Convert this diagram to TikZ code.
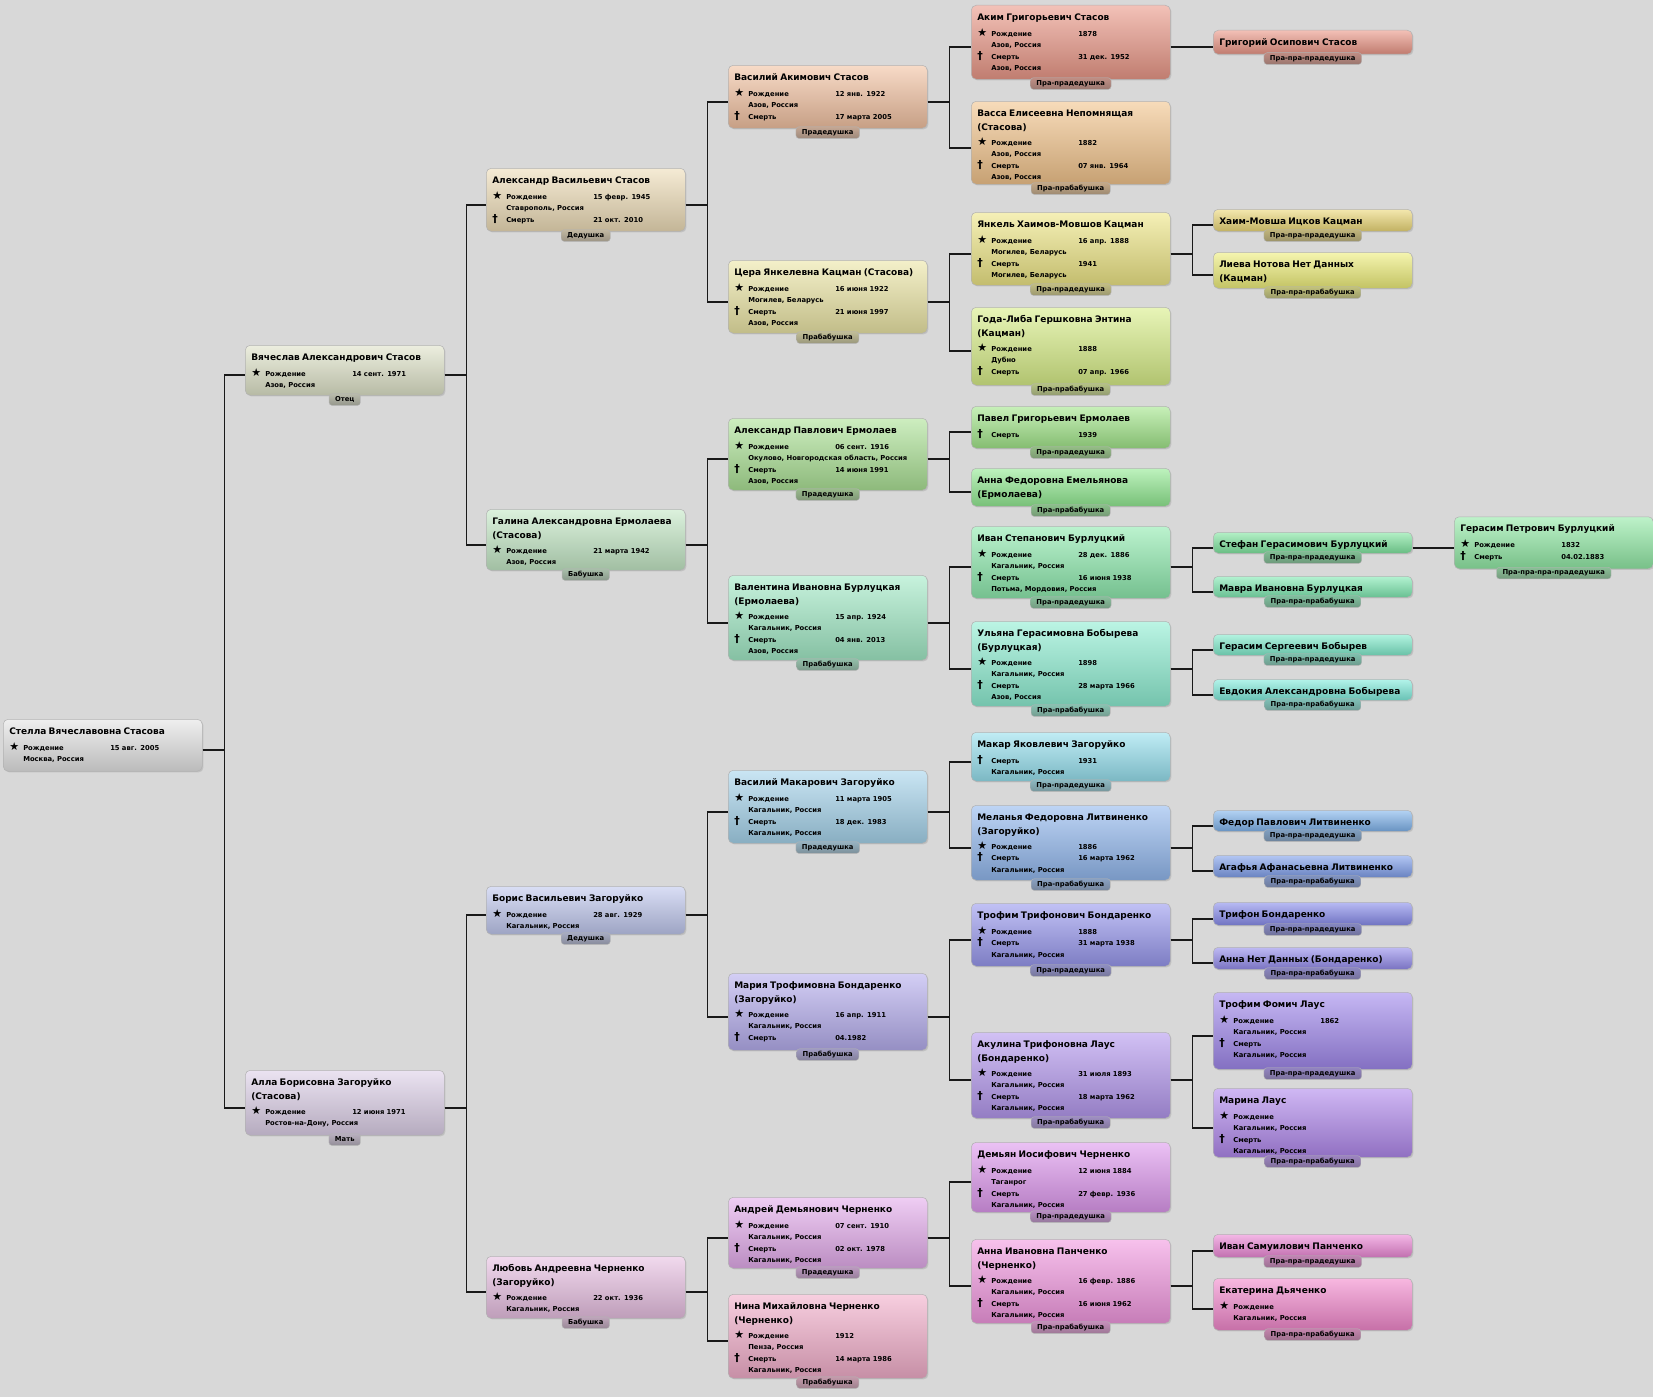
\documentclass[tikz,border=0pt]{standalone}
\usepackage{fontspec}
\setmainfont{DejaVu Sans}
\usetikzlibrary{positioning, shadows}

\definecolor{bgc}{HTML}{D8D8D8}
\definecolor{cRoot}{HTML}{E4E4E4}
\definecolor{cDad}{HTML}{DFE3C9}
\definecolor{cMom}{HTML}{DDD0E8}
\definecolor{cAlexV}{HTML}{EEDDB8}
\definecolor{cGalina}{HTML}{C4E8C6}
\definecolor{cBoris}{HTML}{C0C8EE}
\definecolor{cLyubov}{HTML}{E8C0E2}
\definecolor{cVasA}{HTML}{F2C2A2}
\definecolor{cTsera}{HTML}{ECE6A6}
\definecolor{cAlexP}{HTML}{ACE296}
\definecolor{cValentina}{HTML}{A2EAC6}
\definecolor{cVasM}{HTML}{A6D4EC}
\definecolor{cMaria}{HTML}{B6AEEE}
\definecolor{cAndrey}{HTML}{E4ACEC}
\definecolor{cNina}{HTML}{F2AECA}
\definecolor{cAkim}{HTML}{EA9888}
\definecolor{cVassa}{HTML}{F2C48C}
\definecolor{cYankel}{HTML}{EEE686}
\definecolor{cGoda}{HTML}{D8EE88}
\definecolor{cPavel}{HTML}{A2E68A}
\definecolor{cAnnaF}{HTML}{92EA92}
\definecolor{cIvanS}{HTML}{8EEAAE}
\definecolor{cUlyana}{HTML}{8EEED2}
\definecolor{cMakar}{HTML}{96E0EE}
\definecolor{cMelanya}{HTML}{92B8EE}
\definecolor{cTrofimT}{HTML}{9898EE}
\definecolor{cAkulina}{HTML}{B498EE}
\definecolor{cDemyan}{HTML}{DE98EE}
\definecolor{cAnnaI}{HTML}{F298E0}
\definecolor{cGrigory}{HTML}{EA9686}
\definecolor{cKhaim}{HTML}{ECD878}
\definecolor{cLieva}{HTML}{EEEE7A}
\definecolor{cStefan}{HTML}{80E6A0}
\definecolor{cMavra}{HTML}{80EAB2}
\definecolor{cGerasimS}{HTML}{80ECCC}
\definecolor{cEvdokia}{HTML}{80ECDC}
\definecolor{cFedor}{HTML}{80B4EC}
\definecolor{cAgafya}{HTML}{80A0EC}
\definecolor{cTrifon}{HTML}{888CEC}
\definecolor{cAnnaN}{HTML}{948CEC}
\definecolor{cTrofimF}{HTML}{A088EC}
\definecolor{cMarina}{HTML}{B088EC}
\definecolor{cIvanSam}{HTML}{EC88D6}
\definecolor{cEkaterina}{HTML}{F288CC}
\definecolor{cGerasimP}{HTML}{92EAA6}

\newcommand{\detf}{\fontsize{6.8}{11.5}\selectfont\bfseries}
\newcommand{\namef}{\fontsize{9}{11.5}\selectfont\bfseries}
\newcommand{\tabf}{\fontsize{6.8}{7}\selectfont\bfseries}
\newcommand{\symf}{\fontsize{11}{9}\selectfont}
\newcommand{\nm}[1]{{\namef #1}\\[4.5pt]}
\newcommand{\nmm}[2]{{\namef #1}\\[2.5pt]{\namef #2}\\[3.5pt]}
\newcommand{\rod}[1]{\makebox[14pt][l]{\symf ★}\makebox[87pt][l]{Рождение}#1}
\newcommand{\smr}[1]{\makebox[14pt][l]{\symf †}\makebox[87pt][l]{Смерть}#1}
\newcommand{\plc}[1]{\hspace*{14pt}#1}

\begin{document}
\begin{tikzpicture}[
  x=1pt, y=-1pt,
  card/.style={draw=black!30, line width=.5pt, rounded corners=5pt,
    top color=#1!60!white, bottom color=#1!82!black,
    drop shadow={opacity=.25, shadow xshift=1.2pt, shadow yshift=-1.2pt},
    anchor=north west, text width=187pt, inner xsep=6pt, inner ysep=0pt,
    text height=15pt, align=left, font=\detf},
  tab/.style={draw=black!30, line width=.4pt, rounded corners=3pt,
    top color=#1!60!gray, bottom color=#1!50!gray!85!black,
    inner xsep=6pt, inner ysep=2.2pt,
    text height=5.5pt, text depth=1.8pt, font=\tabf},
  link/.style={draw=black!90, line width=1.6pt}
]
  \useasboundingbox (0,0) rectangle (1653,1397);
  \fill[bgc] (0,0) rectangle (1653,1397);

  % generation 0-2
  \node[card=cRoot, text depth=37pt] (root) at (3,719)
    {\nm{Стелла Вячеславовна Стасова}\rod{15 авг. 2005}\\\plc{Москва, Россия}};
  \node[card=cDad, text depth=35pt] (dad) at (245,345)
    {\nm{Вячеслав Александрович Стасов}\rod{14 сент. 1971}\\\plc{Азов, Россия}};
  \node[card=cMom, text depth=50pt] (mom) at (245,1070)
    {\nmm{Алла Борисовна Загоруйко}{(Стасова)}\rod{12 июня 1971}\\\plc{Ростов-на-Дону, Россия}};
  \node[card=cAlexV, text depth=48pt] (alexV) at (486,168)
    {\nm{Александр Васильевич Стасов}\rod{15 февр. 1945}\\\plc{Ставрополь, Россия}\\\smr{21 окт. 2010}};
  \node[card=cGalina, text depth=46pt] (galina) at (486,509)
    {\nmm{Галина Александровна Ермолаева}{(Стасова)}\rod{21 марта 1942}\\\plc{Азов, Россия}};
  \node[card=cBoris, text depth=33pt] (boris) at (486,886)
    {\nm{Борис Васильевич Загоруйко}\rod{28 авг. 1929}\\\plc{Кагальник, Россия}};
  \node[card=cLyubov, text depth=47pt] (lyubov) at (486,1256)
    {\nmm{Любовь Андреевна Черненко}{(Загоруйко)}\rod{22 окт. 1936}\\\plc{Кагальник, Россия}};

  % generation 3
  \node[card=cVasA, text depth=48pt] (vasA) at (728,65)
    {\nm{Василий Акимович Стасов}\rod{12 янв. 1922}\\\plc{Азов, Россия}\\\smr{17 марта 2005}};
  \node[card=cTsera, text depth=58pt] (tsera) at (728,260)
    {\nm{Цера Янкелевна Кацман (Стасова)}\rod{16 июня 1922}\\\plc{Могилев, Беларусь}\\\smr{21 июня 1997}\\\plc{Азов, Россия}};
  \node[card=cAlexP, text depth=57pt] (alexP) at (728,418)
    {\nm{Александр Павлович Ермолаев}\rod{06 сент. 1916}\\\plc{Окулово, Новгородская область, Россия}\\\smr{14 июня 1991}\\\plc{Азов, Россия}};
  \node[card=cValentina, text depth=70pt] (valentina) at (728,575)
    {\nmm{Валентина Ивановна Бурлуцкая}{(Ермолаева)}\rod{15 апр. 1924}\\\plc{Кагальник, Россия}\\\smr{04 янв. 2013}\\\plc{Азов, Россия}};
  \node[card=cVasM, text depth=58pt] (vasM) at (728,770)
    {\nm{Василий Макарович Загоруйко}\rod{11 марта 1905}\\\plc{Кагальник, Россия}\\\smr{18 дек. 1983}\\\plc{Кагальник, Россия}};
  \node[card=cMaria, text depth=62pt] (maria) at (728,973)
    {\nmm{Мария Трофимовна Бондаренко}{(Загоруйко)}\rod{16 апр. 1911}\\\plc{Кагальник, Россия}\\\smr{04.1982}};
  \node[card=cAndrey, text depth=56pt] (andrey) at (728,1197)
    {\nm{Андрей Демьянович Черненко}\rod{07 сент. 1910}\\\plc{Кагальник, Россия}\\\smr{02 окт. 1978}\\\plc{Кагальник, Россия}};
  \node[card=cNina, text depth=69pt] (nina) at (728,1294)
    {\nmm{Нина Михайловна Черненко}{(Черненко)}\rod{1912}\\\plc{Пенза, Россия}\\\smr{14 марта 1986}\\\plc{Кагальник, Россия}};

  % generation 4
  \node[card=cAkim, text depth=59pt] (akim) at (971,5)
    {\nm{Аким Григорьевич Стасов}\rod{1878}\\\plc{Азов, Россия}\\\smr{31 дек. 1952}\\\plc{Азов, Россия}};
  \node[card=cVassa, text depth=68pt] (vassa) at (971,101)
    {\nmm{Васса Елисеевна Непомнящая}{(Стасова)}\rod{1882}\\\plc{Азов, Россия}\\\smr{07 янв. 1964}\\\plc{Азов, Россия}};
  \node[card=cYankel, text depth=58pt] (yankel) at (971,212)
    {\nm{Янкель Хаимов-Мовшов Кацман}\rod{16 апр. 1888}\\\plc{Могилев, Беларусь}\\\smr{1941}\\\plc{Могилев, Беларусь}};
  \node[card=cGoda, text depth=63pt] (goda) at (971,307)
    {\nmm{Года-Либа Гершковна Энтина}{(Кацман)}\rod{1888}\\\plc{Дубно}\\\smr{07 апр. 1966}};
  \node[card=cPavel, text depth=27pt] (pavel) at (971,406)
    {\nm{Павел Григорьевич Ермолаев}\smr{1939}};
  \node[card=cAnnaF, text depth=23pt] (annaF) at (971,468)
    {{\namef Анна Федоровна Емельянова}\\[2.5pt]{\namef (Ермолаева)}};
  \node[card=cIvanS, text depth=57pt] (ivanS) at (971,526)
    {\nm{Иван Степанович Бурлуцкий}\rod{28 дек. 1886}\\\plc{Кагальник, Россия}\\\smr{16 июня 1938}\\\plc{Потьма, Мордовия, Россия}};
  \node[card=cUlyana, text depth=70pt] (ulyana) at (971,621)
    {\nmm{Ульяна Герасимовна Бобырева}{(Бурлуцкая)}\rod{1898}\\\plc{Кагальник, Россия}\\\smr{28 марта 1966}\\\plc{Азов, Россия}};
  \node[card=cMakar, text depth=34pt] (makar) at (971,732)
    {\nm{Макар Яковлевич Загоруйко}\smr{1931}\\\plc{Кагальник, Россия}};
  \node[card=cMelanya, text depth=60pt] (melanya) at (971,805)
    {\nmm{Меланья Федоровна Литвиненко}{(Загоруйко)}\rod{1886}\\\smr{16 марта 1962}\\\plc{Кагальник, Россия}};
  \node[card=cTrofimT, text depth=48pt] (trofimT) at (971,903)
    {\nm{Трофим Трифонович Бондаренко}\rod{1888}\\\smr{31 марта 1938}\\\plc{Кагальник, Россия}};
  \node[card=cAkulina, text depth=71pt] (akulina) at (971,1032)
    {\nmm{Акулина Трифоновна Лаус}{(Бондаренко)}\rod{31 июля 1893}\\\plc{Кагальник, Россия}\\\smr{18 марта 1962}\\\plc{Кагальник, Россия}};
  \node[card=cDemyan, text depth=55pt] (demyan) at (971,1142)
    {\nm{Демьян Иосифович Черненко}\rod{12 июня 1884}\\\plc{Таганрог}\\\smr{27 февр. 1936}\\\plc{Кагальник, Россия}};
  \node[card=cAnnaI, text depth=69pt] (annaI) at (971,1239)
    {\nmm{Анна Ивановна Панченко}{(Черненко)}\rod{16 февр. 1886}\\\plc{Кагальник, Россия}\\\smr{16 июня 1962}\\\plc{Кагальник, Россия}};

  % generation 5-6
  \node[card=cGrigory, text depth=9pt] (grigory) at (1213,30) {{\namef Григорий Осипович Стасов}};
  \node[card=cKhaim, text depth=7pt] (khaim) at (1213,209) {{\namef Хаим-Мовша Ицков Кацман}};
  \node[card=cLieva, text depth=21pt] (lieva) at (1213,252)
    {{\namef Лиева Нотова Нет Данных}\\[2.5pt]{\namef (Кацман)}};
  \node[card=cStefan, text depth=6pt] (stefan) at (1213,532) {{\namef Стефан Герасимович Бурлуцкий}};
  \node[card=cMavra, text depth=6pt] (mavra) at (1213,576) {{\namef Мавра Ивановна Бурлуцкая}};
  \node[card=cGerasimS, text depth=6pt] (gerasimS) at (1213,634) {{\namef Герасим Сергеевич Бобырев}};
  \node[card=cEvdokia, text depth=6pt] (evdokia) at (1213,679) {{\namef Евдокия Александровна Бобырева}};
  \node[card=cFedor, text depth=6pt] (fedor) at (1213,810) {{\namef Федор Павлович Литвиненко}};
  \node[card=cAgafya, text depth=7pt] (agafya) at (1213,855) {{\namef Агафья Афанасьевна Литвиненко}};
  \node[card=cTrifon, text depth=8pt] (trifon) at (1213,902) {{\namef Трифон Бондаренко}};
  \node[card=cAnnaN, text depth=7pt] (annaN) at (1213,947) {{\namef Анна Нет Данных (Бондаренко)}};
  \node[card=cTrofimF, text depth=62pt] (trofimF) at (1213,992)
    {\nm{Трофим Фомич Лаус}\rod{1862}\\\plc{Кагальник, Россия}\\\smr{}\\\plc{Кагальник, Россия}};
  \node[card=cMarina, text depth=54pt] (marina) at (1213,1088)
    {\nm{Марина Лаус}\rod{}\\\plc{Кагальник, Россия}\\\smr{}\\\plc{Кагальник, Россия}};
  \node[card=cIvanSam, text depth=8pt] (ivanSam) at (1213,1234) {{\namef Иван Самуилович Панченко}};
  \node[card=cEkaterina, text depth=37pt] (ekaterina) at (1213,1278)
    {\nm{Екатерина Дьяченко}\rod{}\\\plc{Кагальник, Россия}};
  \node[card=cGerasimP, text depth=37pt] (gerasimP) at (1454,516.5)
    {\nm{Герасим Петрович Бурлуцкий}\rod{1832}\\\smr{04.02.1883}};

  % relation tabs
  \foreach \n/\c/\t in {dad/cDad/Отец, mom/cMom/Мать,
      alexV/cAlexV/Дедушка, galina/cGalina/Бабушка, boris/cBoris/Дедушка, lyubov/cLyubov/Бабушка,
      vasA/cVasA/Прадедушка, tsera/cTsera/Прабабушка, alexP/cAlexP/Прадедушка,
      valentina/cValentina/Прабабушка, vasM/cVasM/Прадедушка, maria/cMaria/Прабабушка,
      andrey/cAndrey/Прадедушка, nina/cNina/Прабабушка,
      akim/cAkim/Пра-прадедушка, vassa/cVassa/Пра-прабабушка, yankel/cYankel/Пра-прадедушка,
      goda/cGoda/Пра-прабабушка, pavel/cPavel/Пра-прадедушка, annaF/cAnnaF/Пра-прабабушка,
      ivanS/cIvanS/Пра-прадедушка, ulyana/cUlyana/Пра-прабабушка, makar/cMakar/Пра-прадедушка,
      melanya/cMelanya/Пра-прабабушка, trofimT/cTrofimT/Пра-прадедушка, akulina/cAkulina/Пра-прабабушка,
      demyan/cDemyan/Пра-прадедушка, annaI/cAnnaI/Пра-прабабушка,
      grigory/cGrigory/Пра-пра-прадедушка, khaim/cKhaim/Пра-пра-прадедушка, lieva/cLieva/Пра-пра-прабабушка,
      stefan/cStefan/Пра-пра-прадедушка, mavra/cMavra/Пра-пра-прабабушка,
      gerasimS/cGerasimS/Пра-пра-прадедушка, evdokia/cEvdokia/Пра-пра-прабабушка,
      fedor/cFedor/Пра-пра-прадедушка, agafya/cAgafya/Пра-пра-прабабушка,
      trifon/cTrifon/Пра-пра-прадедушка, annaN/cAnnaN/Пра-пра-прабабушка,
      trofimF/cTrofimF/Пра-пра-прадедушка, marina/cMarina/Пра-пра-прабабушка,
      ivanSam/cIvanSam/Пра-пра-прадедушка, ekaterina/cEkaterina/Пра-пра-прабабушка,
      gerasimP/cGerasimP/Пра-пра-пра-прадедушка}
    \node[tab=\c, below=-2pt of \n] (\n-t) {\t};

  % child -> father, mother
  \foreach \k/\f/\m in {root/dad/mom, dad/alexV/galina, mom/boris/lyubov,
      alexV/vasA/tsera, galina/alexP/valentina, boris/vasM/maria, lyubov/andrey/nina,
      vasA/akim/vassa, tsera/yankel/goda, alexP/pavel/annaF, valentina/ivanS/ulyana,
      vasM/makar/melanya, maria/trofimT/akulina, andrey/demyan/annaI,
      yankel/khaim/lieva, ivanS/stefan/mavra, ulyana/gerasimS/evdokia,
      melanya/fedor/agafya, trofimT/trifon/annaN, akulina/trofimF/marina,
      annaI/ivanSam/ekaterina} {
    \draw[link] ([yshift=-5pt]\k.east) -- ++(22,0) |- ([yshift=-5pt]\f.west);
    \draw[link] ([yshift=-5pt]\k.east) -- ++(22,0) |- ([yshift=-5pt]\m.west);
  }
  \draw[link] ([yshift=-5pt]akim.east) -- ++(22,0) |- ([yshift=-5pt]grigory.west);
  \draw[link] ([yshift=-5pt]stefan.east) -- ++(21,0) |- ([yshift=-5pt]gerasimP.west);
\end{tikzpicture}
\end{document}
